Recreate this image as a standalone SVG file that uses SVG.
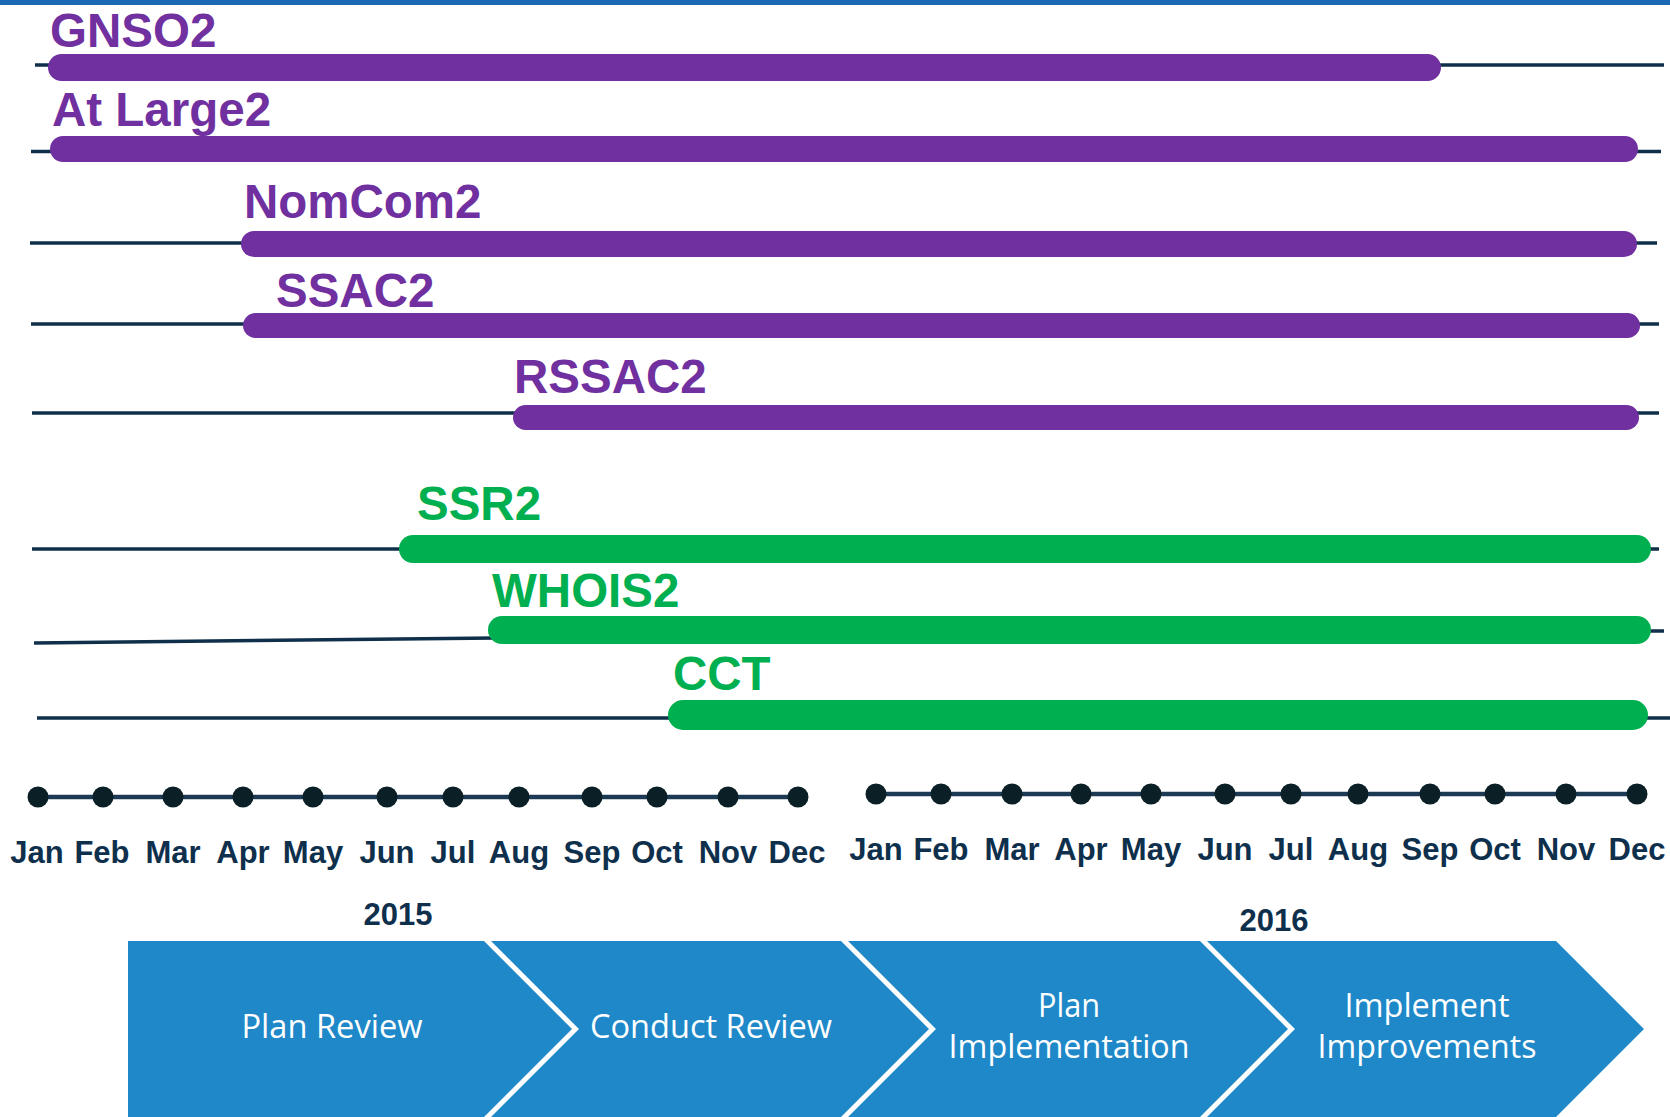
<svg xmlns="http://www.w3.org/2000/svg" width="1670" height="1117" viewBox="0 0 1670 1117">
<style>
.lbl{font-family:"Liberation Sans",Arial,sans-serif;font-weight:bold;font-size:47.5px}
.pur{fill:#7030a0}
.grn{fill:#00b050}
.ln{stroke:#0f2f4a;stroke-width:3.5;fill:none}
.mon{font-family:"Liberation Sans",Arial,sans-serif;font-weight:bold;font-size:31px;fill:#0f304c;text-anchor:middle}
.yr{font-family:"Liberation Sans",Arial,sans-serif;font-weight:bold;font-size:31px;fill:#0f304c;text-anchor:middle}
.tl{stroke:#1d3a55;stroke-width:4.5}
.dot{fill:#0b1f26}
.chev{fill:#1e88c8}
.ct{font-family:"Open Sans","Noto Sans",sans-serif;font-size:32px;fill:#ffffff;text-anchor:middle}
</style>
<rect x="0" y="0" width="1670" height="5" fill="#1a69b2"/>
<g id="connectors">
<line class="ln" x1="35" y1="65" x2="1664" y2="65"/>
<line class="ln" x1="31" y1="151.5" x2="1661" y2="151.5"/>
<line class="ln" x1="30" y1="243" x2="1657" y2="243"/>
<line class="ln" x1="31" y1="324" x2="1659" y2="324"/>
<line class="ln" x1="32" y1="413" x2="1659" y2="413"/>
<line class="ln" x1="32" y1="549" x2="1659" y2="549"/>
<line class="ln" x1="34" y1="643" x2="495" y2="638"/>
<line class="ln" x1="1640" y1="631" x2="1664" y2="631"/>
<line class="ln" x1="37" y1="718" x2="1670" y2="718"/>
</g>
<g id="gnso2"><rect class="pur" x="48" y="54" width="1393" height="27" rx="13.5"/><text class="lbl pur" x="50" y="47">GNSO2</text></g>
<g id="atlarge2"><rect class="pur" x="50" y="136" width="1588" height="26" rx="13"/><text class="lbl pur" x="52" y="126">At Large2</text></g>
<g id="nomcom2"><rect class="pur" x="241" y="231" width="1396" height="26" rx="13"/><text class="lbl pur" x="244" y="218">NomCom2</text></g>
<g id="ssac2"><rect class="pur" x="243" y="313" width="1397" height="25" rx="12.5"/><text class="lbl pur" x="276" y="307">SSAC2</text></g>
<g id="rssac2"><rect class="pur" x="513" y="405" width="1126" height="25" rx="12.5"/><text class="lbl pur" x="514" y="393">RSSAC2</text></g>
<g id="ssr2"><rect class="grn" x="399" y="535" width="1252" height="28" rx="14"/><text class="lbl grn" x="417" y="520">SSR2</text></g>
<g id="whois2"><rect class="grn" x="488" y="616" width="1163" height="28" rx="14"/><text class="lbl grn" x="492" y="607">WHOIS2</text></g>
<g id="cct"><rect class="grn" x="668" y="700" width="980" height="30" rx="15"/><text class="lbl grn" x="673" y="690">CCT</text></g>
<g id="timeline2015">
<line class="tl" x1="38" y1="797" x2="798" y2="797"/>
<circle class="dot" cx="38" cy="797" r="10.5"/><circle class="dot" cx="103" cy="797" r="10.5"/><circle class="dot" cx="173" cy="797" r="10.5"/><circle class="dot" cx="243" cy="797" r="10.5"/><circle class="dot" cx="313" cy="797" r="10.5"/><circle class="dot" cx="387" cy="797" r="10.5"/><circle class="dot" cx="453" cy="797" r="10.5"/><circle class="dot" cx="519" cy="797" r="10.5"/><circle class="dot" cx="592" cy="797" r="10.5"/><circle class="dot" cx="657" cy="797" r="10.5"/><circle class="dot" cx="728" cy="797" r="10.5"/><circle class="dot" cx="798" cy="797" r="10.5"/>
<text class="mon" x="37" y="863">Jan</text><text class="mon" x="102" y="863">Feb</text><text class="mon" x="173" y="863">Mar</text><text class="mon" x="243" y="863">Apr</text><text class="mon" x="313" y="863">May</text><text class="mon" x="387" y="863">Jun</text><text class="mon" x="453" y="863">Jul</text><text class="mon" x="519" y="863">Aug</text><text class="mon" x="592" y="863">Sep</text><text class="mon" x="657" y="863">Oct</text><text class="mon" x="728" y="863">Nov</text><text class="mon" x="797" y="863">Dec</text>
<text class="yr" x="398" y="925">2015</text>
</g>
<g id="timeline2016">
<line class="tl" x1="876" y1="794" x2="1637" y2="794"/>
<circle class="dot" cx="876" cy="794" r="10.5"/><circle class="dot" cx="941" cy="794" r="10.5"/><circle class="dot" cx="1012" cy="794" r="10.5"/><circle class="dot" cx="1081" cy="794" r="10.5"/><circle class="dot" cx="1151" cy="794" r="10.5"/><circle class="dot" cx="1225" cy="794" r="10.5"/><circle class="dot" cx="1291" cy="794" r="10.5"/><circle class="dot" cx="1358" cy="794" r="10.5"/><circle class="dot" cx="1430" cy="794" r="10.5"/><circle class="dot" cx="1495" cy="794" r="10.5"/><circle class="dot" cx="1566" cy="794" r="10.5"/><circle class="dot" cx="1637" cy="794" r="10.5"/>
<text class="mon" x="876" y="860">Jan</text><text class="mon" x="941" y="860">Feb</text><text class="mon" x="1012" y="860">Mar</text><text class="mon" x="1081" y="860">Apr</text><text class="mon" x="1151" y="860">May</text><text class="mon" x="1225" y="860">Jun</text><text class="mon" x="1291" y="860">Jul</text><text class="mon" x="1358" y="860">Aug</text><text class="mon" x="1430" y="860">Sep</text><text class="mon" x="1495" y="860">Oct</text><text class="mon" x="1566" y="860">Nov</text><text class="mon" x="1637" y="860">Dec</text>
<text class="yr" x="1274" y="931">2016</text>
</g>
<g id="plan-review"><polygon class="chev" points="128,941 484,941 572,1029 484,1117 128,1117"/><text class="ct" x="332" y="1038" textLength="181" lengthAdjust="spacingAndGlyphs">Plan Review</text></g>
<g id="conduct-review"><polygon class="chev" points="491,941 841,941 929,1029 841,1117 491,1117 579,1029"/><text class="ct" x="711" y="1038" textLength="242" lengthAdjust="spacingAndGlyphs">Conduct Review</text></g>
<g id="plan-implementation"><polygon class="chev" points="848,941 1200,941 1288,1029 1200,1117 848,1117 936,1029"/><text class="ct" x="1069" y="1017" textLength="62" lengthAdjust="spacingAndGlyphs">Plan</text><text class="ct" x="1069" y="1058" textLength="241" lengthAdjust="spacingAndGlyphs">Implementation</text></g>
<g id="implement-improvements"><polygon class="chev" points="1207,941 1556,941 1644,1029 1556,1117 1207,1117 1295,1029"/><text class="ct" x="1427" y="1017" textLength="165" lengthAdjust="spacingAndGlyphs">Implement</text><text class="ct" x="1427" y="1058" textLength="219" lengthAdjust="spacingAndGlyphs">Improvements</text></g>
</svg>
